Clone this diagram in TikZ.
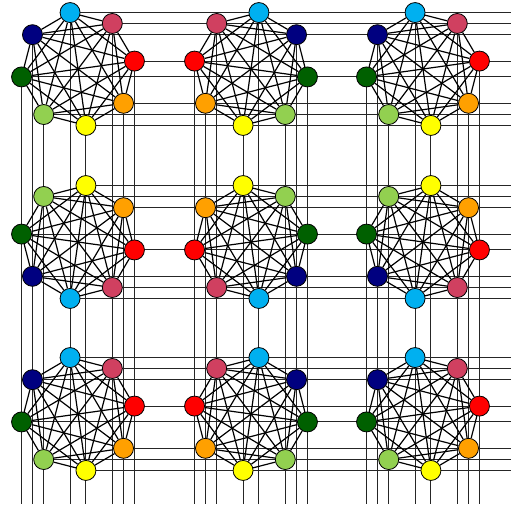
\documentclass[tikz,border=0pt]{standalone}
\usepackage{xcolor}
\usepackage{tikz}
\usetikzlibrary{positioning,backgrounds}
\definecolor{hotred}{RGB}{255,0,0}
\definecolor{rose}{RGB}{208,64,96}
\definecolor{skyblue}{RGB}{0,176,240}
\definecolor{navyblue}{RGB}{0,0,128}
\definecolor{forest}{RGB}{0,96,0}
\definecolor{lime}{RGB}{146,208,80}
\definecolor{sun}{RGB}{255,255,0}
\definecolor{amber}{RGB}{255,160,0}

\begin{document}
\begin{tikzpicture}[
    x=0.75pt,y=-0.75pt,
    vertex/.style={circle,draw=black,line width=0.6pt,minimum size=15pt,inner sep=0pt},
    edge/.style={line width=0.9pt,black},
    gridline/.style={line width=0.7pt,black!85}
  ]
    \useasboundingbox (0,0) rectangle (511,504);
    \coordinate (east) at (511,0);
    \coordinate (south) at (0,504);
    % vertices of the nine complete graphs
    \foreach \r/\cy/\sy in {0/69/1,1/242/-1,2/414/1}{
      \foreach \c/\cx/\sx in {0/78/1,1/251/-1,2/423/1}{
        \foreach \k/\col in {0/hotred,1/rose,2/skyblue,3/navyblue,4/forest,5/lime,6/sun,7/amber}{
          \node[vertex,fill=\col] (n\r\c\k) at ({\cx+\sx*57*cos(8+45*\k)},{\cy-\sy*57*sin(8+45*\k)}) {};
        }
      }
    }
    % edges
    \foreach \r in {0,1,2}{
      \foreach \c in {0,1,2}{
        \foreach \i in {0,...,7}{
          \foreach \j in {0,...,7}{
            \ifnum\i<\j \draw[edge] (n\r\c\i) -- (n\r\c\j); \fi
          }
        }
      }
    }
    % lines to the right and bottom
    \begin{scope}[on background layer]
      \foreach \r in {0,1,2}{
        \foreach \c in {0,1,2}{
          \foreach \k in {0,...,7}{
            \draw[gridline] (n\r\c\k.center) -- (n\r\c\k.center -| east)
                            (n\r\c\k.center) -- (n\r\c\k.center |- south);
          }
        }
      }
    \end{scope}
  \end{tikzpicture}
\end{document}
